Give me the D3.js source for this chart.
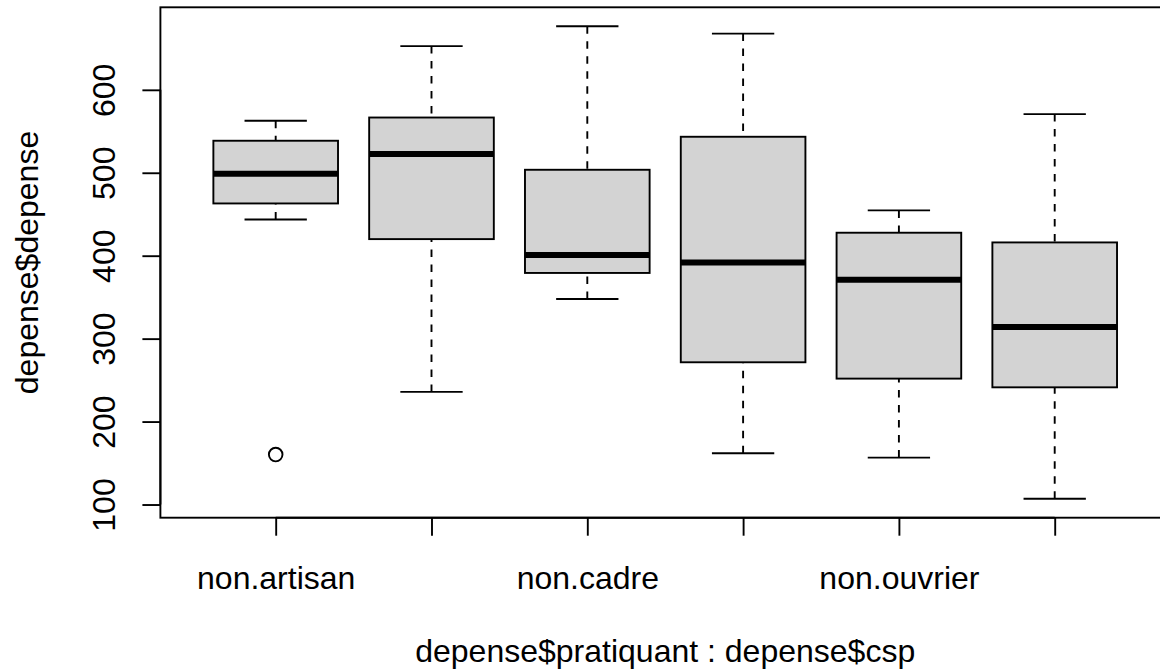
<!DOCTYPE html>
<html>
<head>
<meta charset="utf-8">
<script src="https://cdn.jsdelivr.net/npm/d3@7"></script>
<style>
  html, body { margin: 0; padding: 0; background: #fff; }
  svg { display: block; }
  text { font-family: "Liberation Sans", Arial, Helvetica, sans-serif; fill: #000; }
</style>
</head>
<body>
<svg id="chart" width="1160" height="670"></svg>
<script>
// ---- data ----
const categories = ["non.artisan", "oui.artisan", "non.cadre", "oui.cadre", "non.ouvrier", "oui.ouvrier"];
const shownLabels = ["non.artisan", "non.cadre", "non.ouvrier"]; // labels R kept (others dropped for overlap)
const whiskerLow  = [443.7, 235.8, 347.8, 161.8, 156.6, 106.9];
const quartile1   = [463.0, 420.0, 379.2, 271.5, 251.8, 241.3];
const medians     = [498.8, 522.7, 400.8, 391.9, 371.1, 314.1];
const quartile3   = [538.6, 566.6, 503.6, 543.4, 427.7, 416.0];
const whiskerHigh = [562.7, 652.7, 676.7, 667.8, 454.6, 570.7];
const outlierCat  = ["non.artisan"];
const outlierVal  = [160.2];
const yTicks = [100, 200, 300, 400, 500, 600];
const xTitle = "depense$pratiquant : depense$csp";
const yTitle = "depense$depense";

// ---- layout ----
const svg = d3.select("#chart");
const plot = { left: 160.4, right: 1170, top: 7.3, bottom: 517.7 };
const fontSize = 32;
const lw = 1.9;

const boxes = categories.map((c, i) => ({
  cat: c, idx: i + 1,
  lo: whiskerLow[i], q1: quartile1[i], med: medians[i], q3: quartile3[i], hi: whiskerHigh[i]
}));

// R-style domains: x from 0.5 to n+0.5, extended 4%
const n = categories.length;
const xr = n;
const x = d3.scaleLinear()
  .domain([0.5 - 0.04 * xr, n + 0.5 + 0.04 * xr])
  .range([plot.left, plot.right]);

const allVals = whiskerLow.concat(whiskerHigh, outlierVal);
const vmin = d3.min(allVals), vmax = d3.max(allVals);
const yr = vmax - vmin;
const y = d3.scaleLinear()
  .domain([vmin - 0.04 * yr, vmax + 0.04 * yr])
  .range([plot.bottom, plot.top]);

const boxHalf = 0.4;   // boxwex 0.8
const capHalf = 0.2;   // staple 0.5 of box

const g = svg.append("g");

// whiskers (dashed)
const bx = g.selectAll("g.box").data(boxes).join("g").attr("class", "box");
bx.append("line")
  .attr("x1", d => x(d.idx)).attr("x2", d => x(d.idx))
  .attr("y1", d => y(d.lo)).attr("y2", d => y(d.q1))
  .attr("stroke", "#000").attr("stroke-width", lw).attr("stroke-dasharray", "7.5,7.5");
bx.append("line")
  .attr("x1", d => x(d.idx)).attr("x2", d => x(d.idx))
  .attr("y1", d => y(d.hi)).attr("y2", d => y(d.q3))
  .attr("stroke", "#000").attr("stroke-width", lw).attr("stroke-dasharray", "7.5,7.5");
// staples
bx.append("line")
  .attr("x1", d => x(d.idx - capHalf)).attr("x2", d => x(d.idx + capHalf))
  .attr("y1", d => y(d.lo)).attr("y2", d => y(d.lo))
  .attr("stroke", "#000").attr("stroke-width", lw);
bx.append("line")
  .attr("x1", d => x(d.idx - capHalf)).attr("x2", d => x(d.idx + capHalf))
  .attr("y1", d => y(d.hi)).attr("y2", d => y(d.hi))
  .attr("stroke", "#000").attr("stroke-width", lw);
// boxes
bx.append("rect")
  .attr("x", d => x(d.idx - boxHalf))
  .attr("width", d => x(d.idx + boxHalf) - x(d.idx - boxHalf))
  .attr("y", d => y(d.q3))
  .attr("height", d => y(d.q1) - y(d.q3))
  .attr("fill", "#d3d3d3").attr("stroke", "#000").attr("stroke-width", lw);
// medians
bx.append("line")
  .attr("x1", d => x(d.idx - boxHalf)).attr("x2", d => x(d.idx + boxHalf))
  .attr("y1", d => y(d.med)).attr("y2", d => y(d.med))
  .attr("stroke", "#000").attr("stroke-width", 6);

// outliers
g.selectAll("circle.out").data(outlierVal.map((v, i) => ({ v, c: outlierCat[i] })))
  .join("circle").attr("class", "out")
  .attr("cx", d => x(categories.indexOf(d.c) + 1))
  .attr("cy", d => y(d.v))
  .attr("r", 6.8)
  .attr("fill", "none").attr("stroke", "#000").attr("stroke-width", lw);

// plot frame
svg.append("rect")
  .attr("x", plot.left).attr("y", plot.top)
  .attr("width", plot.right - plot.left).attr("height", plot.bottom - plot.top)
  .attr("fill", "none").attr("stroke", "#000").attr("stroke-width", lw);

// y axis
const yAxis = d3.axisLeft(y).tickValues(yTicks).tickSize(18).tickSizeOuter(0).tickPadding(0);
const ya = svg.append("g").attr("transform", `translate(${plot.left},0)`).call(yAxis);
ya.select(".domain").remove();
ya.selectAll(".tick line").attr("stroke", "#000").attr("stroke-width", lw);
ya.selectAll(".tick text")
  .attr("x", null).attr("dy", null)
  .attr("transform", `translate(${115 - plot.left},0) rotate(-90)`)
  .attr("text-anchor", "middle")
  .style("font-size", fontSize + "px")
  .style("font-family", "'Liberation Sans', Arial, sans-serif")
  .attr("fill", "#000");
ya.append("line")
  .attr("x1", 0).attr("x2", 0)
  .attr("y1", y(d3.min(yTicks))).attr("y2", y(d3.max(yTicks)))
  .attr("stroke", "#000").attr("stroke-width", lw);

// x axis
const xAxis = d3.axisBottom(x).tickValues(d3.range(1, n + 1)).tickSize(18).tickSizeOuter(0)
  .tickFormat(i => shownLabels.includes(categories[i - 1]) ? categories[i - 1] : "");
const xa = svg.append("g").attr("transform", `translate(0,${plot.bottom})`).call(xAxis);
xa.select(".domain").remove();
xa.selectAll(".tick line").attr("stroke", "#000").attr("stroke-width", lw);
xa.selectAll(".tick text")
  .attr("y", 589 - plot.bottom).attr("dy", null)
  .style("font-size", fontSize + "px")
  .style("font-family", "'Liberation Sans', Arial, sans-serif")
  .attr("fill", "#000");
xa.append("line")
  .attr("x1", x(1)).attr("x2", x(n))
  .attr("y1", 0).attr("y2", 0)
  .attr("stroke", "#000").attr("stroke-width", lw);

// axis titles
svg.append("text")
  .attr("x", (plot.left + plot.right) / 2).attr("y", 662)
  .attr("text-anchor", "middle")
  .style("font-size", fontSize + "px")
  .text(xTitle);
svg.append("text")
  .attr("transform", `translate(38,${(plot.top + plot.bottom) / 2}) rotate(-90)`)
  .attr("text-anchor", "middle")
  .style("font-size", fontSize + "px")
  .text(yTitle);
</script>
</body>
</html>
